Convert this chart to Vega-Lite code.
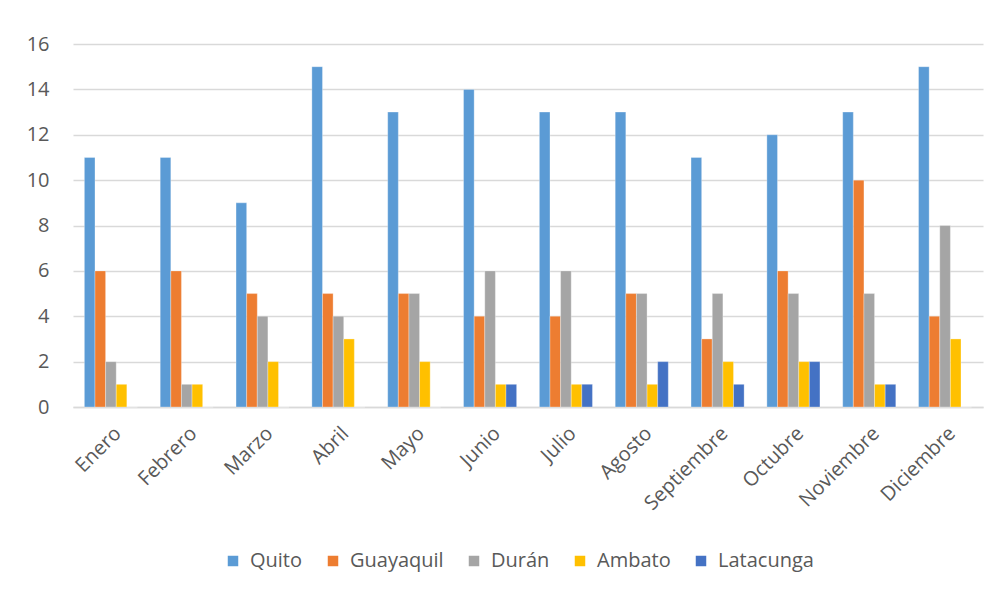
{
  "$schema": "https://vega.github.io/schema/vega-lite/v6.json",
  "width": 910,
  "height": 363,
  "autosize": "none",
  "padding": {"left": 73, "top": 44, "right": 23, "bottom": 188},
  "background": "white",
  "data": {
    "values": [
      {"mes": "Enero", "ciudad": "Quito", "n": 11},
      {"mes": "Enero", "ciudad": "Guayaquil", "n": 6},
      {"mes": "Enero", "ciudad": "Durán", "n": 2},
      {"mes": "Enero", "ciudad": "Ambato", "n": 1},
      {"mes": "Enero", "ciudad": "Latacunga", "n": 0},
      {"mes": "Febrero", "ciudad": "Quito", "n": 11},
      {"mes": "Febrero", "ciudad": "Guayaquil", "n": 6},
      {"mes": "Febrero", "ciudad": "Durán", "n": 1},
      {"mes": "Febrero", "ciudad": "Ambato", "n": 1},
      {"mes": "Febrero", "ciudad": "Latacunga", "n": 0},
      {"mes": "Marzo", "ciudad": "Quito", "n": 9},
      {"mes": "Marzo", "ciudad": "Guayaquil", "n": 5},
      {"mes": "Marzo", "ciudad": "Durán", "n": 4},
      {"mes": "Marzo", "ciudad": "Ambato", "n": 2},
      {"mes": "Marzo", "ciudad": "Latacunga", "n": 0},
      {"mes": "Abril", "ciudad": "Quito", "n": 15},
      {"mes": "Abril", "ciudad": "Guayaquil", "n": 5},
      {"mes": "Abril", "ciudad": "Durán", "n": 4},
      {"mes": "Abril", "ciudad": "Ambato", "n": 3},
      {"mes": "Abril", "ciudad": "Latacunga", "n": 0},
      {"mes": "Mayo", "ciudad": "Quito", "n": 13},
      {"mes": "Mayo", "ciudad": "Guayaquil", "n": 5},
      {"mes": "Mayo", "ciudad": "Durán", "n": 5},
      {"mes": "Mayo", "ciudad": "Ambato", "n": 2},
      {"mes": "Mayo", "ciudad": "Latacunga", "n": 0},
      {"mes": "Junio", "ciudad": "Quito", "n": 14},
      {"mes": "Junio", "ciudad": "Guayaquil", "n": 4},
      {"mes": "Junio", "ciudad": "Durán", "n": 6},
      {"mes": "Junio", "ciudad": "Ambato", "n": 1},
      {"mes": "Junio", "ciudad": "Latacunga", "n": 1},
      {"mes": "Julio", "ciudad": "Quito", "n": 13},
      {"mes": "Julio", "ciudad": "Guayaquil", "n": 4},
      {"mes": "Julio", "ciudad": "Durán", "n": 6},
      {"mes": "Julio", "ciudad": "Ambato", "n": 1},
      {"mes": "Julio", "ciudad": "Latacunga", "n": 1},
      {"mes": "Agosto", "ciudad": "Quito", "n": 13},
      {"mes": "Agosto", "ciudad": "Guayaquil", "n": 5},
      {"mes": "Agosto", "ciudad": "Durán", "n": 5},
      {"mes": "Agosto", "ciudad": "Ambato", "n": 1},
      {"mes": "Agosto", "ciudad": "Latacunga", "n": 2},
      {"mes": "Septiembre", "ciudad": "Quito", "n": 11},
      {"mes": "Septiembre", "ciudad": "Guayaquil", "n": 3},
      {"mes": "Septiembre", "ciudad": "Durán", "n": 5},
      {"mes": "Septiembre", "ciudad": "Ambato", "n": 2},
      {"mes": "Septiembre", "ciudad": "Latacunga", "n": 1},
      {"mes": "Octubre", "ciudad": "Quito", "n": 12},
      {"mes": "Octubre", "ciudad": "Guayaquil", "n": 6},
      {"mes": "Octubre", "ciudad": "Durán", "n": 5},
      {"mes": "Octubre", "ciudad": "Ambato", "n": 2},
      {"mes": "Octubre", "ciudad": "Latacunga", "n": 2},
      {"mes": "Noviembre", "ciudad": "Quito", "n": 13},
      {"mes": "Noviembre", "ciudad": "Guayaquil", "n": 10},
      {"mes": "Noviembre", "ciudad": "Durán", "n": 5},
      {"mes": "Noviembre", "ciudad": "Ambato", "n": 1},
      {"mes": "Noviembre", "ciudad": "Latacunga", "n": 1},
      {"mes": "Diciembre", "ciudad": "Quito", "n": 15},
      {"mes": "Diciembre", "ciudad": "Guayaquil", "n": 4},
      {"mes": "Diciembre", "ciudad": "Durán", "n": 8},
      {"mes": "Diciembre", "ciudad": "Ambato", "n": 3},
      {"mes": "Diciembre", "ciudad": "Latacunga", "n": 0}
    ]
  },
  "mark": {"type": "bar", "stroke": "white", "strokeWidth": 0.5, "strokeOpacity": 0.6},
  "encoding": {
    "x": {
      "field": "mes",
      "type": "nominal",
      "sort": null,
      "title": null,
      "scale": {"paddingInner": 0.3, "paddingOuter": 0.15},
      "axis": {
        "labelAngle": -45,
        "labelFontSize": 20,
        "labelColor": "#595959",
        "labelPadding": 16,
        "ticks": false,
        "domain": true,
        "domainColor": "#D9D9D9",
        "domainWidth": 1.5
      }
    },
    "xOffset": {
      "field": "ciudad",
      "type": "nominal",
      "sort": ["Quito", "Guayaquil", "Durán", "Ambato", "Latacunga"]
    },
    "y": {
      "field": "n",
      "type": "quantitative",
      "title": null,
      "scale": {"domain": [0, 16]},
      "axis": {
        "values": [0, 2, 4, 6, 8, 10, 12, 14, 16],
        "labelFontSize": 20,
        "labelColor": "#595959",
        "labelPadding": 24,
        "ticks": false,
        "domain": false,
        "gridColor": "#D9D9D9",
        "gridWidth": 1.5
      }
    },
    "color": {
      "field": "ciudad",
      "type": "nominal",
      "sort": ["Quito", "Guayaquil", "Durán", "Ambato", "Latacunga"],
      "scale": {
        "domain": ["Quito", "Guayaquil", "Durán", "Ambato", "Latacunga"],
        "range": ["#5B9BD5", "#ED7D31", "#A5A5A5", "#FFC000", "#4472C4"]
      },
      "legend": {
        "title": null,
        "orient": "none",
        "legendX": 150,
        "legendY": 507,
        "direction": "horizontal",
        "symbolType": "square",
        "symbolSize": 110,
        "symbolStrokeWidth": 0,
        "symbolOffset": 0,
        "labelFontSize": 20,
        "labelColor": "#595959",
        "labelOffset": 7,
        "columnPadding": 20
      }
    }
  },
  "config": {
    "font": "Open Sans",
    "view": {"stroke": null}
  }
}
